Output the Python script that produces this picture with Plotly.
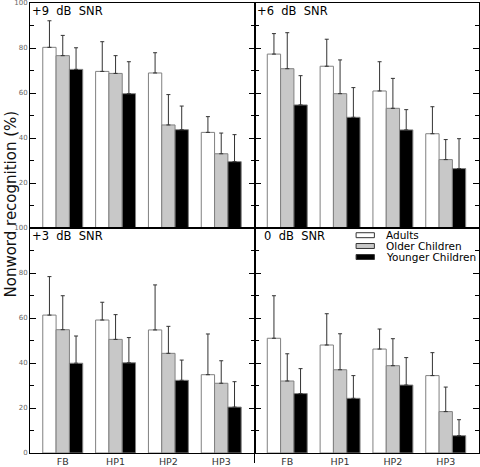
import plotly.graph_objects as go
from plotly.subplots import make_subplots

categories = ["FB", "HP1", "HP2", "HP3"]
groups = ["Adults", "Older Children", "Younger Children"]
panel_titles = ["+9\u00a0\u00a0dB\u00a0\u00a0SNR", "+6\u00a0\u00a0dB\u00a0\u00a0SNR",
                "+3\u00a0\u00a0dB\u00a0\u00a0SNR", "0\u00a0\u00a0dB\u00a0\u00a0SNR"]

# +9 dB SNR
snr9_adults = [80.3, 69.6, 68.9, 42.5]
snr9_adults_sd = [11.8, 13.2, 9.0, 7.0]
snr9_older = [76.6, 68.7, 45.8, 33.0]
snr9_older_sd = [9.0, 7.9, 13.5, 9.2]
snr9_younger = [70.5, 59.7, 43.7, 29.5]
snr9_younger_sd = [9.6, 14.2, 10.5, 12.0]

# +6 dB SNR
snr6_adults = [77.3, 71.9, 60.9, 41.9]
snr6_adults_sd = [9.1, 12.0, 13.0, 12.0]
snr6_older = [70.8, 59.7, 53.2, 30.4]
snr6_older_sd = [16.0, 15.0, 13.3, 8.9]
snr6_younger = [54.7, 49.2, 43.6, 26.4]
snr6_younger_sd = [13.0, 13.2, 9.0, 13.3]

# +3 dB SNR
snr3_adults = [61.3, 59.1, 54.7, 34.8]
snr3_adults_sd = [17.1, 7.9, 20.0, 18.1]
snr3_older = [54.8, 50.5, 44.3, 31.0]
snr3_older_sd = [15.1, 11.0, 12.0, 10.0]
snr3_younger = [39.9, 40.1, 32.3, 20.4]
snr3_younger_sd = [12.1, 11.2, 9.0, 11.3]

# 0 dB SNR
snr0_adults = [51.0, 48.0, 46.2, 34.4]
snr0_adults_sd = [18.9, 13.9, 8.9, 10.2]
snr0_older = [32.0, 37.0, 38.8, 18.4]
snr0_older_sd = [12.1, 16.0, 12.0, 10.9]
snr0_younger = [26.4, 24.3, 30.2, 7.7]
snr0_younger_sd = [11.1, 10.1, 12.2, 7.1]

panels = [
    (1, 1, [snr9_adults, snr9_older, snr9_younger], [snr9_adults_sd, snr9_older_sd, snr9_younger_sd]),
    (1, 2, [snr6_adults, snr6_older, snr6_younger], [snr6_adults_sd, snr6_older_sd, snr6_younger_sd]),
    (2, 1, [snr3_adults, snr3_older, snr3_younger], [snr3_adults_sd, snr3_older_sd, snr3_younger_sd]),
    (2, 2, [snr0_adults, snr0_older, snr0_younger], [snr0_adults_sd, snr0_older_sd, snr0_younger_sd]),
]

fills = ["#ffffff", "#c8c8c8", "#000000"]
FONT = "DejaVu Sans, Liberation Sans, Arial, sans-serif"

fig = make_subplots(rows=2, cols=2, horizontal_spacing=0, vertical_spacing=0)

xpos = list(range(len(categories)))
for r, c, vals, sds in panels:
    for gi, g in enumerate(groups):
        fig.add_trace(go.Bar(
            x=xpos, y=vals[gi], name=g, showlegend=False,
            marker=dict(color=fills[gi], line=dict(color="#808080", width=1)),
            error_y=dict(type="data", array=sds[gi], arrayminus=[0] * len(sds[gi]),
                         symmetric=False, color="#333333", thickness=1, width=2),
        ), row=r, col=c)

fig.update_layout(
    width=480, height=467,
    margin=dict(l=30, r=1, t=3, b=14, autoexpand=False),
    paper_bgcolor="white", plot_bgcolor="white",
    barmode="group", bargap=0.244, bargroupgap=0,
    font=dict(family=FONT, color="#000"),
    showlegend=False,
)

for r in (1, 2):
    for c in (1, 2):
        fig.update_xaxes(
            row=r, col=c, range=[-0.62, 3.63], tickmode="array", tickvals=xpos,
            ticktext=categories, showticklabels=(r == 2), ticks="",
            showline=True, linecolor="black", linewidth=1, mirror=True,
            showgrid=False, zeroline=False, automargin=False,
            tickfont=dict(size=9.5, color="#333", family=FONT),
        )
        if c == 1:
            tv = [0, 20, 40, 60, 80, 100] if r == 2 else [20, 40, 60, 80, 100]
        else:
            tv = [0, 20, 40, 60, 80, 100]
        fig.update_yaxes(
            row=r, col=c, range=[0, 100], tickmode="array", tickvals=tv,
            showticklabels=(c == 1), ticks="inside", ticklen=6, tickcolor="black",
            tickwidth=1, showline=True, linecolor="black", linewidth=1, mirror="ticks",
            showgrid=False, zeroline=False, automargin=False,
            ticklabeloverflow="allow",
            tickfont=dict(size=7, color="#666", family=FONT),
            minor=dict(tickvals=[10, 30, 50, 70, 90], ticks="inside", ticklen=4,
                       tickcolor="black", tickwidth=1, showgrid=False),
        )

# panel titles
axnames = ["", "2", "3", "4"]
title_shift = [0, 0, 0, 7]
for i, t in enumerate(panel_titles):
    fig.add_annotation(
        text=t, xref=f"x{axnames[i]} domain", yref=f"y{axnames[i]} domain",
        x=0, y=1, xanchor="left", yanchor="top", showarrow=False,
        xshift=title_shift[i], yshift=1,
        font=dict(size=11.5, color="#000", family=FONT),
    )

# y-axis title
fig.add_annotation(
    text="Nonword recognition (%)", xref="paper", yref="paper",
    x=-31 / 449, y=(453 - 204.5) / 450, xanchor="left", yanchor="middle",
    textangle=-90, showarrow=False,
    font=dict(size=15, color="#111", family=FONT),
)

# custom legend in bottom-right panel
leg_y = [0.968, 0.920, 0.871]
for gi, g in enumerate(groups):
    fig.add_shape(
        type="rect", xref="x4 domain", yref="y4 domain",
        x0=0.4526, x1=0.534, y0=leg_y[gi] - 0.011, y1=leg_y[gi] + 0.011,
        fillcolor=fills[gi], line=dict(color="#333", width=1),
    )
    fig.add_annotation(
        text=g, xref="x4 domain", yref="y4 domain", x=0.5786, y=leg_y[gi],
        xanchor="left", yanchor="middle", showarrow=False,
        font=dict(size=10.5, color="#000", family=FONT),
    )

# stray divider extension below the bottom axis
fig.add_shape(type="line", xref="paper", yref="paper", x0=0.5, x1=0.5,
              y0=0, y1=-10 / 450, line=dict(color="black", width=1))

fig.write_html(
    "out.html",
    config={"displayModeBar": False},
    post_script="document.body.style.margin='0';document.body.style.overflow='hidden';",
)
